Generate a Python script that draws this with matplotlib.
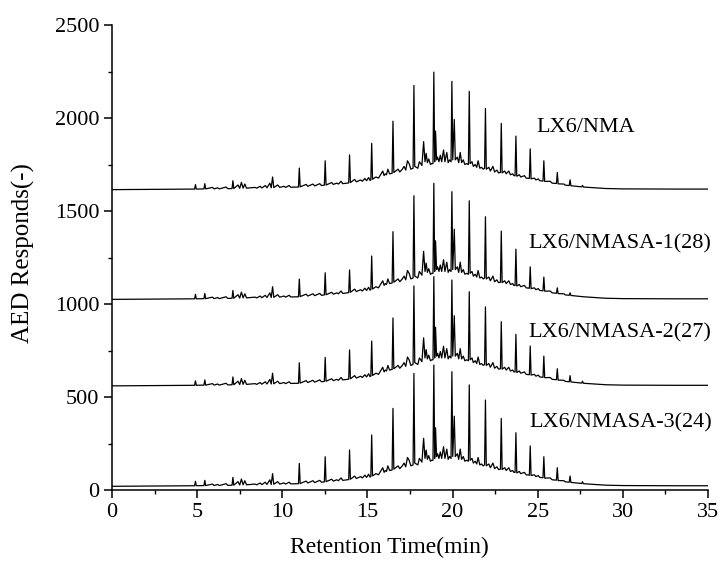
import matplotlib
matplotlib.use("Agg")
import matplotlib.pyplot as plt
from matplotlib.ticker import MultipleLocator
import numpy as np

plt.rcParams["font.family"] = ["Liberation Serif", "DejaVu Serif"]

# background (hump + small peaks), height above each trace's baseline
rt_bg = [
    0.0, 4.0, 4.85, 4.9, 4.95, 5.4, 5.45, 5.5, 5.9, 6.0, 6.2, 6.3, 6.7, 6.8,
    7.05, 7.1, 7.15, 7.4, 7.5, 7.6, 7.7, 7.8, 7.9, 8.4, 8.5, 8.7, 8.8, 9.0, 9.1,
    9.27, 9.35, 9.43, 9.5, 9.73, 9.85, 10.1, 10.2, 10.4, 10.5, 10.95, 11.05,
    11.4, 11.5, 11.8, 11.9, 12.2, 12.3, 12.47, 12.57, 12.9, 13.0, 13.2, 13.3,
    13.45, 13.55, 13.9, 14.0, 14.25, 14.35, 14.6, 14.7, 14.85, 14.95, 15.07,
    15.15, 15.2, 15.3, 15.5, 15.65, 15.9, 15.98, 16.05, 16.12, 16.2, 16.3, 16.45,
    16.55, 16.8, 16.9, 17.05, 17.15, 17.25, 17.35, 17.45, 17.55, 17.68, 17.78,
    17.96, 18.05, 18.13, 18.2, 18.3, 18.38, 18.45, 18.52, 18.6, 18.7, 18.78,
    18.85, 18.95, 19.0, 19.06, 19.12, 19.2, 19.28, 19.36, 19.47, 19.55, 19.66,
    19.74, 19.82, 19.91, 20.01, 20.1, 20.16, 20.28, 20.36, 20.45, 20.53, 20.63,
    20.72, 20.82, 20.93, 21.03, 21.14, 21.22, 21.33, 21.42, 21.5, 21.6, 21.7,
    21.8, 21.88, 21.98, 22.13, 22.22, 22.37, 22.47, 22.6, 22.7, 22.81, 22.91,
    23.06, 23.15, 23.3, 23.4, 23.53, 23.6, 23.67, 23.77, 23.92, 24.0, 24.22,
    24.32, 24.51, 24.61, 24.8, 24.9, 25.03, 25.12, 25.31, 25.41, 25.73, 25.85,
    26.1, 26.2, 26.54, 26.62, 26.85, 26.95, 27.58, 27.68, 28.0, 29.0, 30.0,
    33.0, 35.0,
]
bg = [
    0, 2, 3, 27, 3, 4, 32, 4, 12, 4, 10, 4, 14, 5,
    6, 48, 6, 25, 7, 39, 8, 30, 8, 12, 8, 18, 9, 22, 10,
    35, 10, 68, 11, 25, 12, 18, 12, 22, 13, 14, 15,
    28, 18, 30, 20, 32, 22, 24, 25, 38, 28, 35, 30,
    45, 32, 36, 38, 55, 42, 52, 45, 60, 48, 65,
    50, 52, 56, 68, 62, 100, 75, 85, 80, 110, 85, 88,
    92, 110, 95, 110, 125, 105, 155, 140, 110, 115, 125,
    115, 150, 140, 130, 258, 150, 195, 145, 165, 135, 140,
    140, 150, 315, 160, 175, 150, 185, 150, 213, 150, 200,
    145, 160, 150, 160, 377, 160, 175, 145, 200, 145, 160,
    135, 140, 135, 140, 150, 125, 135, 120, 155, 115, 120,
    110, 115, 110, 120, 100, 125, 95, 105, 90, 92, 90,
    100, 85, 100, 80, 85, 75, 75, 72, 80, 68, 75,
    62, 60, 58, 62, 52, 58, 48, 46, 44, 45, 35,
    33, 31, 30, 24, 22, 21, 15, 14, 12, 6, 4,
    3, 3,
]

# main n-alkane peaks (retention time, height above baseline)
rt_peaks = [11.0, 12.52, 13.95, 15.25, 16.5, 17.73, 18.9, 19.96, 20.98,
            21.93, 22.86, 23.72, 24.56, 25.36, 26.15, 26.9, 27.63]
h_nma = [116, 155, 187, 249, 368, 560, 632, 582, 528, 436, 356, 288, 219, 155, 92, 53, 23]
h_s1 = [109, 143, 158, 233, 364, 557, 624, 579, 530, 444, 367, 270, 175, 120, 62, 35, 15]
h_s2 = [124, 153, 193, 241, 365, 537, 587, 569, 506, 425, 345, 277, 214, 160, 92, 55, 25]
h_s3 = [123, 159, 195, 276, 419, 607, 652, 616, 545, 464, 365, 288, 217, 159, 100, 55, 25]

baselines = [1615, 1025, 560, 20]
labels = ["LX6/NMA", "LX6/NMASA-1(28)", "LX6/NMASA-2(27)", "LX6/NMASA-3(24)"]
label_y = [1950, 1326, 846, 362]
label_x = [24.9, 24.45, 24.45, 24.5]

assert len(rt_bg) == len(bg)

fig = plt.figure(figsize=(7.24, 5.74), dpi=100)
ax = fig.add_axes([0.1547, 0.1463, 0.8232, 0.8101])

for base, heights in zip(baselines, [h_nma, h_s1, h_s2, h_s3]):
    t = np.array(rt_bg + rt_peaks, dtype=float)
    y = np.array(bg + heights, dtype=float)
    order = np.argsort(t, kind="stable")
    ax.plot(t[order], base + y[order], color="black", lw=0.9)

for x, y, lab in zip(label_x, label_y, labels):
    ax.text(x, y, lab, fontsize=16, va="center", ha="left")

ax.set_xlim(0, 35)
ax.set_ylim(0, 2500)
ax.xaxis.set_major_locator(MultipleLocator(5))
ax.xaxis.set_minor_locator(MultipleLocator(2.5))
ax.yaxis.set_major_locator(MultipleLocator(500))
ax.yaxis.set_minor_locator(MultipleLocator(250))
ax.tick_params(which="major", direction="out", length=6, width=1.1, labelsize=16, pad=3)
ax.tick_params(which="minor", direction="out", length=3, width=1.0)
for side in ["top", "right"]:
    ax.spines[side].set_visible(False)
for side in ["left", "bottom"]:
    ax.spines[side].set_linewidth(1.1)

ax.set_xlabel("Retention Time(min)", fontsize=17)
ax.set_ylabel("AED Responds(-)", fontsize=18)
ax.xaxis.set_label_coords(0.466, -0.1)
ax.yaxis.set_label_coords(-0.13, 0.51)

fig.savefig("out.png", dpi=100)
